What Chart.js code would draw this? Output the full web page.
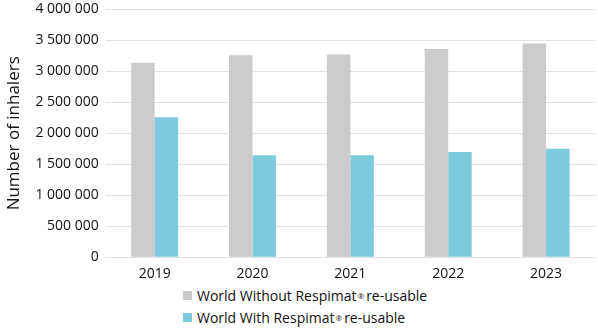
<!DOCTYPE html>
<html lang="en">
<head>
  <meta charset="UTF-8">
  <title>Number of inhalers</title>
  <script src="https://cdn.jsdelivr.net/npm/chart.js"></script>
  <style>
    body { margin: 0; background: #fff; font-family: "Open Sans", sans-serif; overflow: hidden; }
    #wrap { position: relative; width: 598px; height: 288px; margin-top: -6px; }
    #legend { margin: 2px 0 0 183px; padding: 0; list-style: none; font-size: 14px; color: #111; }
    #legend li { display: flex; align-items: center; height: 22px; }
    #legend span { display: inline-block; width: 9px; height: 9px; margin-right: 5px; }
    #legend sup { font-size: 8px; margin: 0 2px 0 1px; }
  </style>
</head>
<body>
  <div id="wrap"><canvas id="inhalerChart"></canvas></div>
  <ul id="legend"></ul>

  <script>
    var years = ["2019", "2020", "2021", "2022", "2023"];
    var withoutRespimat = [3140000, 3260000, 3270000, 3360000, 3450000];
    var withRespimat = [2260000, 1645000, 1645000, 1700000, 1750000];
    var seriesNames = ["World Without Respimat\u00ae re-usable", "World With Respimat\u00ae re-usable"];
    var seriesColors = ["#cccaca", "#7dcadf"];

    function spaced(v) {
      return String(v).replace(/\B(?=(\d{3})+(?!\d))/g, " ");
    }

    var ctx = document.getElementById("inhalerChart").getContext("2d");
    var chart = new Chart(ctx, {
      type: "bar",
      data: {
        labels: years,
        datasets: [
          { label: seriesNames[0], data: withoutRespimat, backgroundColor: seriesColors[0] },
          { label: seriesNames[1], data: withRespimat, backgroundColor: seriesColors[1] }
        ]
      },
      options: {
        responsive: true,
        maintainAspectRatio: false,
        animation: false,
        layout: { padding: { top: 0, right: 3, left: 4, bottom: 0 } },
        datasets: { bar: { categoryPercentage: 0.48, barPercentage: 1.0 } },
        plugins: { legend: { display: false }, tooltip: { enabled: false } },
        scales: {
          x: {
            grid: { display: false },
            border: { color: "#e2e2e2", width: 1 },
            ticks: { color: "#111", font: { family: "Open Sans", size: 14 }, padding: 0 }
          },
          y: {
            min: 0,
            max: 4000000,
            grid: { color: "#e2e2e2", drawTicks: false },
            border: { display: false },
            ticks: {
              stepSize: 500000,
              color: "#111",
              padding: 7,
              font: { family: "Open Sans", size: 14 },
              callback: function (v) { return spaced(v); }
            },
            title: {
              display: true,
              text: "Number of inhalers",
              color: "#111",
              font: { family: "Open Sans", size: 17 },
              padding: { top: 0, bottom: 4 }
            }
          }
        }
      }
    });

    var legend = document.getElementById("legend");
    seriesNames.forEach(function (name, i) {
      var li = document.createElement("li");
      li.innerHTML = '<span style="background:' + seriesColors[i] + '"></span>' + name.replace("\u00ae", "<sup>\u00ae</sup>");
      legend.appendChild(li);
    });
  </script>
</body>
</html>
